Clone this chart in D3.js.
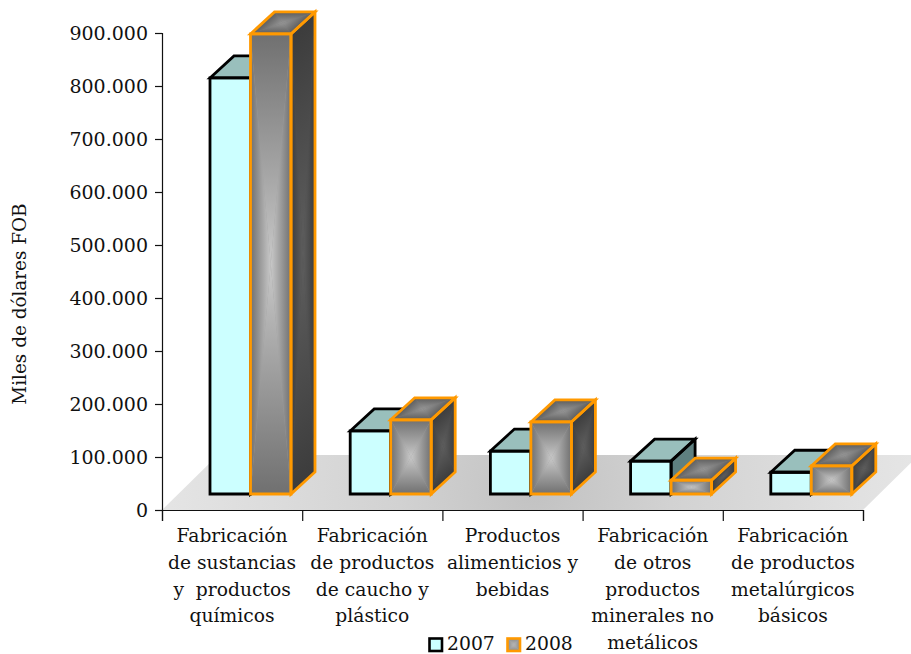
<!DOCTYPE html>
<html><head><meta charset="utf-8">
<script src="https://cdnjs.cloudflare.com/ajax/libs/d3/7.8.5/d3.min.js"></script>
<style>html,body{margin:0;padding:0;background:#fff}svg{display:block}
text{font-family:"DejaVu Serif",serif;fill:#111;white-space:pre}</style></head>
<body><svg id="c" width="911" height="654"></svg>
<script>
const categories = [
  ["Fabricación","de sustancias","y  productos","químicos"],
  ["Fabricación","de productos","de caucho y","plástico"],
  ["Productos","alimenticios y","bebidas"],
  ["Fabricación","de otros","productos","minerales no","metálicos"],
  ["Fabricación","de productos","metalúrgicos","básicos"]
];
const seriesNames = ["2007","2008"];
const values2007 = [785000,119000,81000,62000,41000];
const values2008 = [868000,140000,136000,26000,53000];
const yTicks = [0,100000,200000,300000,400000,500000,600000,700000,800000,900000];
const yTitle = "Miles de dólares FOB";

const svg = d3.select("#c"), defs = svg.append("defs");
const x0 = 162, x1 = 863, yB = 510, yT = 33, baseLift = 16, dx = 24, dy = 22;
const y = d3.scaleLinear().domain([0,900000]).range([yB,yT]);
const idx = categories.map((_,i)=>i);
const xCat = d3.scaleBand().domain(idx).range([x0,x1]);
const xSer = d3.scaleBand().domain(seriesNames).range([48,129]);
const fmt = v => d3.format(",")(v).replace(/,/g,".");

// floor
const fg = defs.append("radialGradient").attr("id","floor").attr("gradientUnits","userSpaceOnUse")
  .attr("cx",535).attr("cy",490).attr("r",390);
fg.append("stop").attr("offset",0).attr("stop-color","#c2c2c2");
fg.append("stop").attr("offset",.35).attr("stop-color","#d2d2d2");
fg.append("stop").attr("offset",1).attr("stop-color","#e6e6e6");
svg.append("polygon").attr("fill","url(#floor)")
  .attr("points",[[x0,yB],[x0+56,y(100000)-2],[x1+56,y(100000)-2],[x1,yB]].join(" "));

// rectangular path gradient: four triangles running from the edge to the centre
let gid = 0;
function pathGrad(g, pts, edge, mid){
  const c = [d3.mean(pts,p=>p[0]), d3.mean(pts,p=>p[1])];
  g.append("polygon").attr("points",pts.join(" ")).attr("fill",d3.interpolateRgb(edge,mid)(.5));
  pts.forEach((a,i)=>{
    const b = pts[(i+1)%4];
    const ex=b[0]-a[0], ey=b[1]-a[1], t=((c[0]-a[0])*ex+(c[1]-a[1])*ey)/(ex*ex+ey*ey);
    const fx=a[0]+t*ex, fy=a[1]+t*ey, id="g"+(gid++);
    const lg=defs.append("linearGradient").attr("id",id).attr("gradientUnits","userSpaceOnUse")
      .attr("x1",fx).attr("y1",fy).attr("x2",c[0]).attr("y2",c[1]);
    lg.append("stop").attr("offset",0).attr("stop-color",edge);
    lg.append("stop").attr("offset",1).attr("stop-color",mid);
    g.append("polygon").attr("points",[a,b,c].join(" ")).attr("fill",`url(#${id})`);
  });
}
function outline(g,pts,color){
  g.append("polygon").attr("points",pts.join(" ")).attr("fill","none")
   .attr("stroke",color).attr("stroke-width",2.8).attr("stroke-linejoin","miter");
}
function bar(i,name,v){
  const g = svg.append("g");
  const l = xCat(i)+xSer(name), r = l+xSer.bandwidth();
  const b = yB-baseLift, t = y(v)-baseLift;
  const front=[[l,t],[r,t],[r,b],[l,b]];
  const top=[[l,t],[l+dx,t-dy],[r+dx,t-dy],[r,t]];
  const side=[[r,t],[r+dx,t-dy],[r+dx,b-dy],[r,b]];
  if(name==="2007"){
    g.append("polygon").attr("points",side.join(" ")).attr("fill","#5f8080");
    g.append("polygon").attr("points",top.join(" ")).attr("fill","#99bfbc");
    g.append("polygon").attr("points",front.join(" ")).attr("fill","#ccffff");
    [side,top,front].forEach(p=>outline(g,p,"#000"));
  } else {
    pathGrad(g,side,"#3c3c3c","#5e5e5e");
    pathGrad(g,top,"#5c5c5c","#969696");
    pathGrad(g,front,"#707070","#c8c8c8");
    [side,top,front].forEach(p=>outline(g,p,"#ff9900"));
  }
}
idx.forEach(i=>{ bar(i,"2007",values2007[i]); bar(i,"2008",values2008[i]); });

// axes
const ya = svg.append("g").attr("transform",`translate(${x0},0)`)
  .call(d3.axisLeft(y).tickValues(yTicks).tickFormat(fmt).tickSize(7).tickPadding(7));
ya.selectAll("text").attr("font-size",19).attr("fill","#111");
const xTickScale = d3.scaleLinear().domain([0,categories.length]).range([x0,x1]);
const xa = svg.append("g").attr("transform",`translate(0,${yB})`)
  .call(d3.axisBottom(xTickScale).tickValues(d3.range(categories.length+1)).tickFormat("").tickSize(11));
svg.selectAll(".domain,.tick line").attr("stroke","#111").attr("stroke-width",1.2);

// category labels
idx.forEach(i=>{
  const t = svg.append("text").attr("text-anchor","middle").attr("font-size",18.7);
  categories[i].forEach((s,k)=>t.append("tspan")
    .attr("x",xCat(i)+xCat.bandwidth()/2).attr("y",542+k*26.8).text(s));
});

// y title
svg.append("text").attr("transform","translate(26,304) rotate(-90)")
  .attr("text-anchor","middle").attr("font-size",18.4).text(yTitle);

// legend
const lx = d3.scaleOrdinal().domain(seriesNames).range([429.5,507.5]);
seriesNames.forEach(n=>{
  const g = svg.append("g").attr("transform",`translate(${lx(n)},638.5)`);
  if(n==="2007") g.append("rect").attr("width",12.5).attr("height",12.5).attr("fill","#ccffff").attr("stroke","#000").attr("stroke-width",2.6);
  else {
    pathGrad(g,[[0,0],[12.5,0],[12.5,12.5],[0,12.5]],"#8a8a8a","#b8b8b8");
    g.append("rect").attr("width",12.5).attr("height",12.5).attr("fill","none").attr("stroke","#ff9900").attr("stroke-width",2.6);
  }
  g.append("text").attr("x",n==="2007"?17.5:17.5).attr("y",11).attr("font-size",18.8).text(n);
});
</script></body></html>
